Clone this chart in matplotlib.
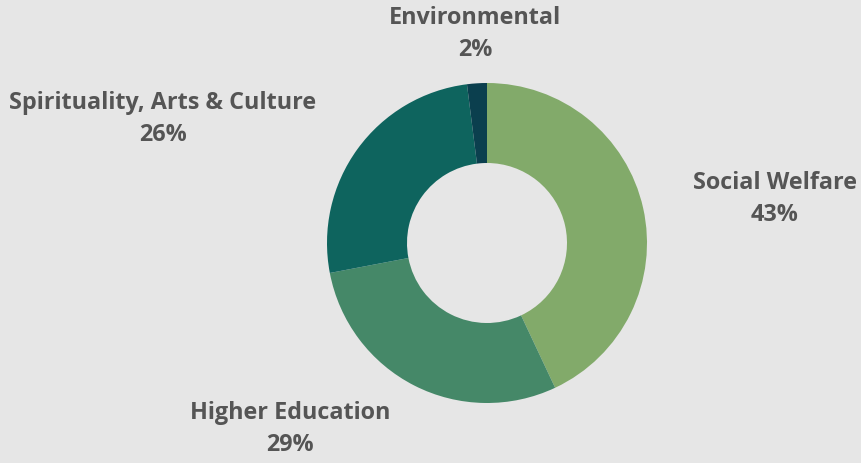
import matplotlib
matplotlib.use("Agg")
import matplotlib.pyplot as plt

# Data
categories = ["Social Welfare", "Higher Education", "Spirituality, Arts & Culture", "Environmental"]
shares = [43, 29, 26, 2]
colors = ["#82aa6a", "#458868", "#0e645e", "#0b3f4e"]

# label centres (pixels from top-left)
label_pos = [(775, 199), (290, 429), (163, 119), (475, 34)]

W, H = 861, 463

plt.rcParams['font.family'] = ['Open Sans', 'DejaVu Sans']

fig = plt.figure(figsize=(W / 100, H / 100), dpi=100)
fig.patch.set_facecolor("#e6e6e6")
ax = fig.add_axes([0, 0, 1, 1])
ax.set_facecolor("#e6e6e6")

ax.pie(shares, colors=colors, startangle=90, counterclock=False,
       center=(487, H - 243), radius=160, frame=True,
       wedgeprops=dict(width=80, linewidth=0))
ax.set_xlim(0, W)
ax.set_ylim(0, H)
ax.set_aspect("equal")
ax.axis("off")

for cat, val, (x, y) in zip(categories, shares, label_pos):
    ax.text(x, H - y, f"{cat}\n{val}%", ha="center", va="center",
            fontsize=16.8, fontweight="bold", color="#555555", linespacing=1.4)

fig.savefig("out.png", dpi=100, facecolor=fig.get_facecolor())
